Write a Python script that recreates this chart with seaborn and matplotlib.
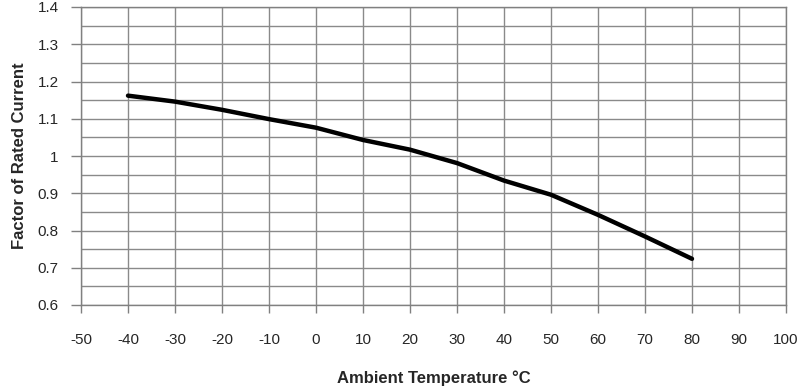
import numpy as np
import pandas as pd
import matplotlib
matplotlib.use("Agg")
import matplotlib.pyplot as plt
from matplotlib.ticker import MultipleLocator
import seaborn as sns

temperature = [-40, -30, -20, -10, 0, 10, 20, 30, 40, 50, 60, 70, 80]
factor = [1.162, 1.146, 1.124, 1.099, 1.076, 1.043, 1.017, 0.981, 0.934, 0.896, 0.842, 0.784, 0.724]

x_ticks = list(range(-50, 101, 10))
y_ticks = [0.6, 0.7, 0.8, 0.9, 1.0, 1.1, 1.2, 1.3, 1.4]
y_tick_labels = ["0.6", "0.7", "0.8", "0.9", "1", "1.1", "1.2", "1.3", "1.4"]

sns.set_style("white")
plt.rcParams['font.family'] = ['Liberation Sans', 'DejaVu Sans']

df = pd.DataFrame({'temp': temperature, 'factor': factor})

fig = plt.figure(figsize=(8.01, 3.92), dpi=100)
ax = fig.add_axes([81/801, 1 - 305/392, 705/801, 298/392])

sns.lineplot(x='temp', y='factor', data=df, color='black', linewidth=3.2, ax=ax)

ax.set_xlim(-50, 100)
ax.set_ylim(0.6, 1.4)
ax.set_xticks(x_ticks)
ax.set_xticklabels([str(t) for t in x_ticks])
ax.set_yticks(y_ticks)
ax.set_yticklabels(y_tick_labels)
ax.yaxis.set_minor_locator(MultipleLocator(0.05))

ax.grid(True, which='major', color='#8a8a8a', linewidth=1.0)
ax.grid(True, which='minor', axis='y', color='#8a8a8a', linewidth=1.0)
ax.set_axisbelow(True)
for s in ax.spines.values():
    s.set_color('#808080')
    s.set_linewidth(1.0)

ax.tick_params(axis='x', which='major', length=6, width=1, color='#808080',
               pad=14, labelsize=11, direction='out', bottom=True)
ax.tick_params(axis='y', which='major', length=7, width=1, color='#808080',
               pad=9, labelsize=11, direction='out', left=True)
ax.tick_params(axis='y', which='minor', length=0)

ax.set_xlabel('Ambient Temperature °C', fontsize=12, fontweight='bold', labelpad=17)
ax.set_ylabel('Factor of Rated Current', fontsize=12, fontweight='bold', labelpad=8)

fig.savefig('out.png', dpi=100)
